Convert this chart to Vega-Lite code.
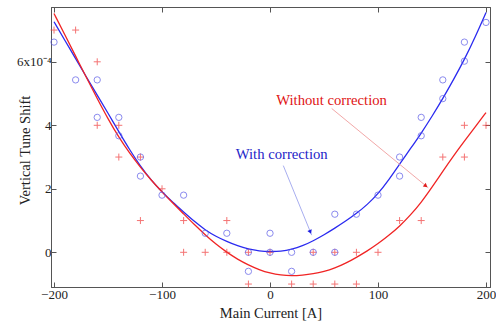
{
  "$schema": "https://vega.github.io/schema/vega-lite/v6.json",
  "width": 439,
  "height": 280,
  "autosize": "none",
  "padding": {"left": 51, "top": 7, "right": 6, "bottom": 35},
  "background": "white",
  "config": {
    "view": {"stroke": "#555", "strokeWidth": 1},
    "font": "Liberation Serif",
    "axis": {
      "grid": false,
      "domainColor": "#555",
      "tickColor": "#555",
      "tickSize": -5,
      "labelFont": "Liberation Serif",
      "labelFontSize": 13,
      "labelColor": "#222",
      "titleFont": "Liberation Serif",
      "titleFontSize": 14.5,
      "titleFontWeight": "normal",
      "titleColor": "#222"
    }
  },
  "datasets": {
    "blueCurve": [
      {"current": -200, "shift": 7.26}, {"current": -190, "shift": 6.68}, {"current": -180, "shift": 6.1},
      {"current": -170, "shift": 5.52}, {"current": -160, "shift": 4.95}, {"current": -150, "shift": 4.38},
      {"current": -140, "shift": 3.8}, {"current": -130, "shift": 3.23}, {"current": -120, "shift": 2.71},
      {"current": -110, "shift": 2.27}, {"current": -100, "shift": 1.9}, {"current": -90, "shift": 1.57},
      {"current": -80, "shift": 1.27}, {"current": -70, "shift": 0.97}, {"current": -60, "shift": 0.7},
      {"current": -50, "shift": 0.5}, {"current": -40, "shift": 0.34}, {"current": -30, "shift": 0.2},
      {"current": -20, "shift": 0.1}, {"current": -10, "shift": 0.04}, {"current": 0, "shift": 0.02},
      {"current": 10, "shift": 0.03}, {"current": 20, "shift": 0.09}, {"current": 30, "shift": 0.2},
      {"current": 40, "shift": 0.36}, {"current": 50, "shift": 0.55}, {"current": 60, "shift": 0.76},
      {"current": 70, "shift": 0.98}, {"current": 80, "shift": 1.22}, {"current": 90, "shift": 1.5},
      {"current": 100, "shift": 1.84}, {"current": 110, "shift": 2.28}, {"current": 120, "shift": 2.78},
      {"current": 130, "shift": 3.26}, {"current": 140, "shift": 3.75}, {"current": 150, "shift": 4.28},
      {"current": 160, "shift": 4.84}, {"current": 170, "shift": 5.44}, {"current": 180, "shift": 6.07},
      {"current": 190, "shift": 6.78}, {"current": 200, "shift": 7.55}
    ],
    "redCurve": [
      {"current": -200, "shift": 7.52}, {"current": -190, "shift": 6.85}, {"current": -180, "shift": 6.18},
      {"current": -170, "shift": 5.5}, {"current": -160, "shift": 4.84}, {"current": -150, "shift": 4.2},
      {"current": -140, "shift": 3.62}, {"current": -130, "shift": 3.12}, {"current": -120, "shift": 2.68},
      {"current": -110, "shift": 2.27}, {"current": -100, "shift": 1.9}, {"current": -90, "shift": 1.55},
      {"current": -80, "shift": 1.21}, {"current": -70, "shift": 0.87}, {"current": -60, "shift": 0.55},
      {"current": -50, "shift": 0.25}, {"current": -40, "shift": 0.0}, {"current": -30, "shift": -0.22},
      {"current": -20, "shift": -0.4}, {"current": -10, "shift": -0.55}, {"current": 0, "shift": -0.66},
      {"current": 10, "shift": -0.72}, {"current": 20, "shift": -0.74}, {"current": 30, "shift": -0.72},
      {"current": 40, "shift": -0.68}, {"current": 50, "shift": -0.61}, {"current": 60, "shift": -0.5},
      {"current": 70, "shift": -0.35}, {"current": 80, "shift": -0.16}, {"current": 90, "shift": 0.04},
      {"current": 100, "shift": 0.27}, {"current": 110, "shift": 0.53}, {"current": 120, "shift": 0.82},
      {"current": 130, "shift": 1.17}, {"current": 140, "shift": 1.57}, {"current": 150, "shift": 2.05},
      {"current": 160, "shift": 2.55}, {"current": 170, "shift": 3.04}, {"current": 180, "shift": 3.5},
      {"current": 190, "shift": 3.95}, {"current": 200, "shift": 4.4}
    ],
    "redPoints": [
      {"current": -200, "shift": 7}, {"current": -180, "shift": 7}, {"current": -160, "shift": 6},
      {"current": -160, "shift": 4}, {"current": -140, "shift": 4}, {"current": -140, "shift": 3},
      {"current": -120, "shift": 3}, {"current": -120, "shift": 1}, {"current": -100, "shift": 2},
      {"current": -80, "shift": 1}, {"current": -80, "shift": 0}, {"current": -60, "shift": 0},
      {"current": -40, "shift": 1}, {"current": -40, "shift": 0}, {"current": -20, "shift": 0},
      {"current": -20, "shift": -1}, {"current": 0, "shift": 0}, {"current": 20, "shift": -1},
      {"current": 40, "shift": 0}, {"current": 40, "shift": -1}, {"current": 60, "shift": 0},
      {"current": 60, "shift": -1}, {"current": 80, "shift": 0}, {"current": 80, "shift": -1},
      {"current": 100, "shift": 0}, {"current": 120, "shift": 1}, {"current": 140, "shift": 1},
      {"current": 160, "shift": 3}, {"current": 180, "shift": 3}, {"current": 180, "shift": 4},
      {"current": 200, "shift": 4}
    ],
    "bluePoints": [
      {"current": -200, "shift": 6.62}, {"current": -180, "shift": 5.43}, {"current": -160, "shift": 5.43},
      {"current": -160, "shift": 4.25}, {"current": -140, "shift": 4.25}, {"current": -140, "shift": 3.67},
      {"current": -120, "shift": 3.0}, {"current": -120, "shift": 2.4}, {"current": -100, "shift": 1.8},
      {"current": -80, "shift": 1.8}, {"current": -60, "shift": 0.6}, {"current": -40, "shift": 0.6},
      {"current": -20, "shift": 0}, {"current": -20, "shift": -0.6}, {"current": 0, "shift": 0.6},
      {"current": 0, "shift": 0}, {"current": 20, "shift": 0}, {"current": 20, "shift": -0.6},
      {"current": 40, "shift": 0}, {"current": 60, "shift": 1.2}, {"current": 60, "shift": 0},
      {"current": 80, "shift": 1.2}, {"current": 100, "shift": 1.8}, {"current": 120, "shift": 3.0},
      {"current": 120, "shift": 2.4}, {"current": 140, "shift": 3.67}, {"current": 140, "shift": 4.25},
      {"current": 160, "shift": 4.84}, {"current": 160, "shift": 5.43}, {"current": 180, "shift": 6.02},
      {"current": 180, "shift": 6.62}, {"current": 200, "shift": 7.24}
    ],
    "blueArrow": [{"x1": 12.3, "y1": 2.73, "x2": 38.6, "y2": 0.54}],
    "redArrow": [{"x1": 57.1, "y1": 4.53, "x2": 146.6, "y2": 2.03}],
    "blueHead": [{"current": 37.3, "shift": 0.64}],
    "redHead": [{"current": 144.3, "shift": 2.09}],
    "labels": [
      {"current": 57, "shift": 4.76, "text": "Without correction", "series": "without"},
      {"current": 10.8, "shift": 3.07, "text": "With correction", "series": "with"}
    ]
  },
  "resolve": {"axis": {"x": "independent", "y": "independent"}},
  "layer": [
    {
      "data": {"name": "blueCurve"},
      "mark": {"type": "line", "color": "#2a2af0", "strokeWidth": 1.3, "interpolate": "basis"},
      "encoding": {
        "x": {"field": "current", "type": "quantitative",
              "scale": {"domain": [-202.8, 203.7], "nice": false, "zero": false},
              "axis": {"orient": "bottom", "values": [-200, -100, 0, 100, 200], "title": "Main Current [A]",
                       "labelPadding": 6, "titleY": 26, "titleBaseline": "middle"}},
        "y": {"field": "shift", "type": "quantitative",
              "scale": {"domain": [-1.093, 7.726], "nice": false, "zero": false},
              "axis": {"orient": "left", "values": [0, 2, 4, 6], "title": "Vertical Tune Shift",
                       "labelPadding": 5,
                       "labelExpr": "datum.value == 6 ? '6x10⁻⁴' : datum.label",
                       "titleX": -26, "titleY": 143, "titleBaseline": "middle"}}
      }
    },
    {
      "data": {"name": "redCurve"},
      "mark": {"type": "line", "color": "#f02424", "strokeWidth": 1.3, "interpolate": "basis"},
      "encoding": {
        "x": {"field": "current", "type": "quantitative",
              "axis": {"orient": "top", "values": [-200, -100, 0, 100, 200], "labels": false, "title": null}},
        "y": {"field": "shift", "type": "quantitative",
              "axis": {"orient": "right", "values": [0, 2, 4, 6], "labels": false, "title": null}}
      }
    },
    {
      "data": {"name": "redPoints"},
      "mark": {"type": "point", "shape": "M-1,0H1M0,-1V1", "size": 49, "filled": false, "color": "#f03a3a", "strokeWidth": 1},
      "encoding": {
        "x": {"field": "current", "type": "quantitative", "axis": null},
        "y": {"field": "shift", "type": "quantitative", "axis": null}
      }
    },
    {
      "data": {"name": "bluePoints"},
      "mark": {"type": "point", "shape": "circle", "size": 40, "filled": false, "color": "#5a5ae8", "strokeWidth": 1},
      "encoding": {
        "x": {"field": "current", "type": "quantitative", "axis": null},
        "y": {"field": "shift", "type": "quantitative", "axis": null}
      }
    },
    {
      "data": {"name": "blueArrow"},
      "mark": {"type": "rule", "color": "#a8aef0", "strokeWidth": 1},
      "encoding": {
        "x": {"field": "x1", "type": "quantitative", "axis": null},
        "y": {"field": "y1", "type": "quantitative", "axis": null},
        "x2": {"field": "x2"},
        "y2": {"field": "y2"}
      }
    },
    {
      "data": {"name": "redArrow"},
      "mark": {"type": "rule", "color": "#f2a8a8", "strokeWidth": 1},
      "encoding": {
        "x": {"field": "x1", "type": "quantitative", "axis": null},
        "y": {"field": "y1", "type": "quantitative", "axis": null},
        "x2": {"field": "x2"},
        "y2": {"field": "y2"}
      }
    },
    {
      "data": {"name": "blueHead"},
      "mark": {"type": "point", "shape": "triangle-up", "size": 22, "filled": true, "color": "#1c1ce0", "opacity": 1, "angle": 158},
      "encoding": {
        "x": {"field": "current", "type": "quantitative", "axis": null},
        "y": {"field": "shift", "type": "quantitative", "axis": null}
      }
    },
    {
      "data": {"name": "redHead"},
      "mark": {"type": "point", "shape": "triangle-up", "size": 22, "filled": true, "color": "#e01c1c", "opacity": 1, "angle": 129},
      "encoding": {
        "x": {"field": "current", "type": "quantitative", "axis": null},
        "y": {"field": "shift", "type": "quantitative", "axis": null}
      }
    },
    {
      "data": {"name": "labels"},
      "mark": {"type": "text", "font": "Liberation Serif", "fontSize": 14.7, "align": "center", "baseline": "middle"},
      "encoding": {
        "x": {"field": "current", "type": "quantitative", "axis": null},
        "y": {"field": "shift", "type": "quantitative", "axis": null},
        "text": {"field": "text"},
        "color": {"field": "series", "type": "nominal",
                  "scale": {"domain": ["without", "with"], "range": ["#e01414", "#2424c8"]},
                  "legend": null}
      }
    }
  ]
}
